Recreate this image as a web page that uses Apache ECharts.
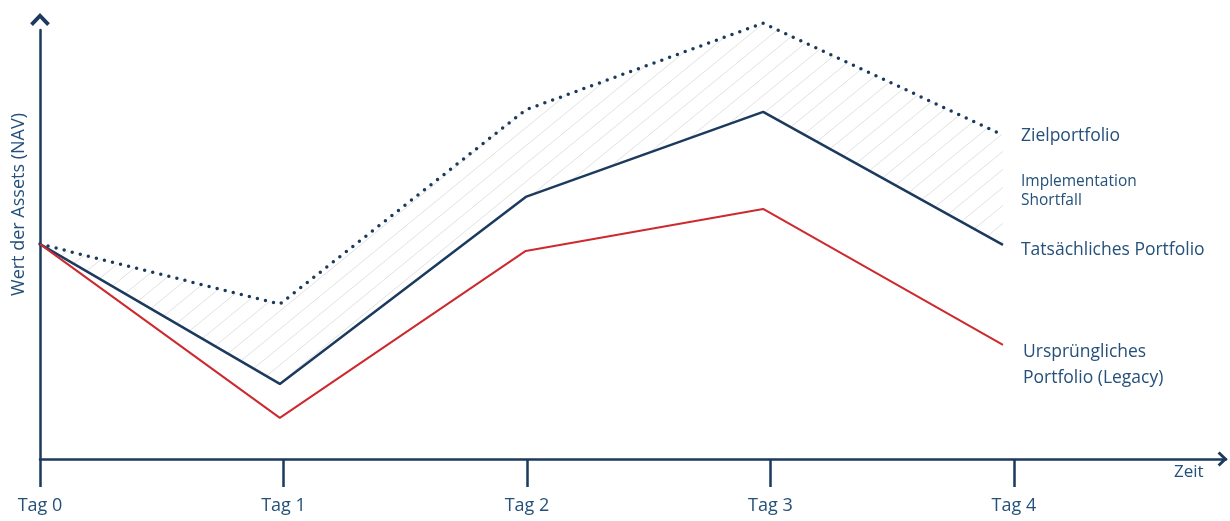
<!DOCTYPE html>
<html>
<head>
<meta charset="utf-8">
<script src="https://cdn.jsdelivr.net/npm/echarts@6/dist/echarts.min.js"></script>
<style>
  html, body { margin: 0; padding: 0; background: #ffffff; }
  #chart { width: 1230px; height: 521px; }
</style>
</head>
<body>
<div id="chart"></div>
<script>
// Day markers on the time axis
const dayLabels = ['Tag 0', 'Tag 1', 'Tag 2', 'Tag 3', 'Tag 4'];
const dayTicks = [0, 1, 2, 3, 4];
// Horizontal position of each observation (in days)
const pointDays = [0, 0.985, 1.995, 2.97, 3.955];

// Net asset value of each portfolio (index units)
const zielportfolio = [50.1, 36.1, 81.4, 101.6, 75.5];
const tatsaechlich  = [50.1, 17.5, 61.1, 80.9, 49.9];
const legacy        = [50.1, 9.6, 48.5, 58.3, 26.6];

// Right-hand series captions
const labelZiel = 'Zielportfolio';
const labelGap = 'Implementation\nShortfall';
const labelIst = 'Tatsächliches Portfolio';
const labelLegacy = 'Ursprüngliches\nPortfolio (Legacy)';
const axisNameX = 'Zeit';
const axisNameY = 'Wert der Assets (NAV)';

const navy = '#1b3a5e';
const red = '#cc2a2f';
const textColor = '#24507a';
const font = "'Open Sans', 'Noto Sans', sans-serif";

// open chevron used as the axis arrow heads
const chevron = 'path://M5,0 L10,5.2 L8.6,6.6 L5,2.8 L1.4,6.6 L0,5.2 Z';

// diagonal hatch used to fill the shortfall band
function hatchPattern() {
  const w = 22, h = 18;
  const c = document.createElement('canvas');
  c.width = w; c.height = h;
  const g = c.getContext('2d');
  g.strokeStyle = '#e2e2e2';
  g.lineWidth = 1;
  g.beginPath();
  [-w, 0, w].forEach(function (dx) {
    g.moveTo(dx, h);
    g.lineTo(dx + w, 0);
  });
  g.stroke();
  return c;
}
const hatch = hatchPattern();

function pairs(values) {
  return values.map(function (v, i) { return [pointDays[i], v]; });
}

// rows: day, target value, actual value
const bandRows = pointDays.map(function (d, i) { return [d, zielportfolio[i], tatsaechlich[i]]; });

function renderBand(params, api) {
  const idx = params.dataIndexInside;
  const children = [];
  if (idx > 0) {
    const d0 = api.value(0, idx - 1), d1 = api.value(0, idx);
    const pts = [
      api.coord([d0, api.value(1, idx - 1)]),
      api.coord([d1, api.value(1, idx)]),
      api.coord([d1, api.value(2, idx)]),
      api.coord([d0, api.value(2, idx - 1)])
    ];
    children.push({
      type: 'polygon',
      shape: { points: pts },
      style: { fill: { image: hatch, repeat: 'repeat' } }
    });
  }
  if (idx === params.dataInsideLength - 1) {
    const top = api.coord([api.value(0, idx), api.value(1, idx)]);
    children.push({
      type: 'text',
      x: top[0] + 18,
      y: top[1] + 56,
      style: {
        text: labelGap,
        fill: textColor,
        fontSize: 15.5,
        lineHeight: 19,
        fontFamily: font,
        align: 'left',
        verticalAlign: 'middle'
      }
    });
  }
  return { type: 'group', children: children };
}

const chart = echarts.init(document.getElementById('chart'), null, { renderer: 'canvas' });

chart.setOption({
  animation: false,
  backgroundColor: '#ffffff',
  grid: { left: 40, right: 4, top: 30, bottom: 62, containLabel: false, outerBoundsMode: 'none' },
  xAxis: {
    type: 'value',
    min: 0,
    max: 4.871,
    name: axisNameX,
    nameLocation: 'end',
    nameGap: -52,
    nameTextStyle: {
      color: textColor, fontSize: 17, fontFamily: font,
      verticalAlign: 'top', align: 'left', padding: [5, 0, 0, 0]
    },
    axisLine: {
      show: true,
      lineStyle: { color: navy, width: 2.5 },
      symbol: ['none', chevron],
      symbolSize: [15, 11],
      symbolOffset: [0, -3.5]
    },
    axisTick: { show: true, length: 28, customValues: dayTicks, lineStyle: { color: navy, width: 2.5 } },
    axisLabel: {
      customValues: dayTicks,
      formatter: function (v) { return dayLabels[Math.round(v)]; },
      margin: 38,
      color: textColor,
      fontSize: 18,
      fontFamily: font
    },
    splitLine: { show: false }
  },
  yAxis: {
    type: 'value',
    min: 0,
    max: 100,
    name: axisNameY,
    nameLocation: 'middle',
    nameGap: 12,
    nameTextStyle: { color: textColor, fontSize: 18, fontFamily: font, padding: [0, 0, 0, 80] },
    axisLine: {
      show: true,
      lineStyle: { color: navy, width: 2.5 },
      symbol: ['none', chevron],
      symbolSize: [21, 13],
      symbolOffset: [0, 10.5]
    },
    axisTick: { show: false },
    axisLabel: { show: false },
    splitLine: { show: false }
  },
  series: [
    {
      type: 'custom',
      name: 'Implementation Shortfall',
      data: bandRows,
      dimensions: ['tag', 'ziel', 'ist'],
      encode: { x: 0, y: [1, 2] },
      renderItem: renderBand,
      silent: true,
      clip: false,
      z: 1
    },
    {
      type: 'line',
      name: 'Zielportfolio',
      data: pairs(zielportfolio),
      symbol: 'none',
      clip: false,
      lineStyle: { color: navy, width: 3.5, type: [0, 8.3], cap: 'round' },
      endLabel: {
        show: true, formatter: labelZiel, distance: 18, offset: [0, 1],
        color: textColor, fontSize: 17.5, fontFamily: font
      }
    },
    {
      type: 'line',
      name: 'Tatsächliches Portfolio',
      data: pairs(tatsaechlich),
      symbol: 'none',
      clip: false,
      lineStyle: { color: navy, width: 2.5 },
      endLabel: {
        show: true, formatter: labelIst, distance: 18, offset: [0, 5],
        color: textColor, fontSize: 17.5, fontFamily: font
      }
    },
    {
      type: 'line',
      name: 'Ursprüngliches Portfolio (Legacy)',
      data: pairs(legacy),
      symbol: 'none',
      clip: false,
      lineStyle: { color: red, width: 2 },
      endLabel: {
        show: true, formatter: labelLegacy, distance: 20, offset: [0, 20],
        color: textColor, fontSize: 17.5, lineHeight: 26, fontFamily: font
      }
    }
  ]
});
</script>
</body>
</html>
